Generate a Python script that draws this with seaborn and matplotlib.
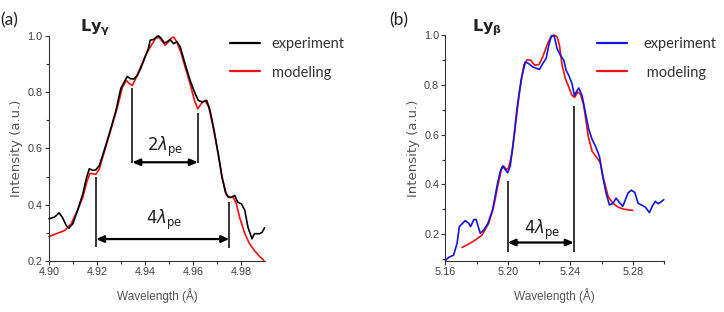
import numpy as np
import pandas as pd
import seaborn as sns
import matplotlib.pyplot as plt

# Ly-gamma (panel a)
gamma_wl_exp = [4.9000, 4.9023, 4.9042, 4.9055, 4.9072, 4.9083, 4.9099, 4.9119, 4.9141, 4.9157,
                4.9168, 4.9182, 4.9195, 4.9210, 4.9230, 4.9251, 4.9279, 4.9299, 4.9317, 4.9326,
                4.9340, 4.9354, 4.9368, 4.9382, 4.9395, 4.9414, 4.9422, 4.9437, 4.9451, 4.9457,
                4.9468, 4.9481, 4.9491, 4.9505, 4.9519, 4.9533, 4.9547, 4.9567, 4.9588, 4.9606,
                4.9622, 4.9639, 4.9657, 4.9671, 4.9688, 4.9705, 4.9721, 4.9735, 4.9747, 4.9760,
                4.9774, 4.9786, 4.9802, 4.9816, 4.9829, 4.9846, 4.9856, 4.9878, 4.9888, 4.9898]
gamma_int_exp = [0.350, 0.356, 0.371, 0.356, 0.326, 0.317, 0.332, 0.380, 0.439, 0.498,
                 0.528, 0.522, 0.524, 0.540, 0.593, 0.652, 0.735, 0.813, 0.842, 0.856,
                 0.848, 0.847, 0.860, 0.884, 0.913, 0.955, 0.985, 0.988, 0.999, 1.000,
                 0.991, 0.975, 0.979, 0.987, 0.973, 0.979, 0.961, 0.901, 0.842, 0.801,
                 0.771, 0.765, 0.771, 0.735, 0.664, 0.581, 0.498, 0.445, 0.427, 0.427,
                 0.433, 0.409, 0.403, 0.380, 0.320, 0.279, 0.297, 0.297, 0.302, 0.318]
gamma_wl_mod = [4.9000, 4.9030, 4.9065, 4.9092, 4.9119, 4.9141, 4.9157, 4.9171, 4.9184, 4.9195,
                4.9210, 4.9230, 4.9257, 4.9285, 4.9306, 4.9322, 4.9336, 4.9347, 4.9361, 4.9382,
                4.9402, 4.9422, 4.9444, 4.9457, 4.9471, 4.9484, 4.9498, 4.9510, 4.9519, 4.9533,
                4.9551, 4.9567, 4.9588, 4.9606, 4.9620, 4.9636, 4.9650, 4.9666, 4.9684, 4.9705,
                4.9721, 4.9740, 4.9754, 4.9767, 4.9781, 4.9794, 4.9816, 4.9836, 4.9856, 4.9878,
                4.9895]
gamma_int_mod = [0.287, 0.297, 0.308, 0.332, 0.380, 0.427, 0.480, 0.512, 0.510, 0.508,
                 0.528, 0.587, 0.664, 0.747, 0.818, 0.842, 0.830, 0.824, 0.848, 0.890,
                 0.931, 0.961, 0.991, 0.996, 0.982, 0.967, 0.979, 0.993, 0.996, 0.979,
                 0.937, 0.890, 0.830, 0.771, 0.741, 0.761, 0.771, 0.747, 0.676, 0.581,
                 0.498, 0.433, 0.425, 0.427, 0.403, 0.356, 0.297, 0.261, 0.237, 0.216,
                 0.202]

# Ly-beta (panel b)
beta_wl_exp = [5.1600, 5.1625, 5.1652, 5.1674, 5.1689, 5.1706, 5.1727, 5.1749, 5.1761, 5.1781,
               5.1796, 5.1813, 5.1823, 5.1845, 5.1872, 5.1902, 5.1930, 5.1951, 5.1966, 5.1983,
               5.1998, 5.2015, 5.2037, 5.2058, 5.2086, 5.2112, 5.2133, 5.2159, 5.2187, 5.2202,
               5.2223, 5.2245, 5.2262, 5.2279, 5.2296, 5.2315, 5.2336, 5.2358, 5.2373, 5.2390,
               5.2411, 5.2426, 5.2443, 5.2454, 5.2475, 5.2496, 5.2518, 5.2539, 5.2560, 5.2586,
               5.2607, 5.2629, 5.2650, 5.2672, 5.2693, 5.2721, 5.2736, 5.2753, 5.2770, 5.2791,
               5.2813, 5.2834, 5.2860, 5.2881, 5.2907, 5.2924, 5.2945, 5.2962, 5.2977, 5.2999]
beta_int_exp = [0.096, 0.109, 0.116, 0.163, 0.231, 0.242, 0.255, 0.244, 0.231, 0.258,
                0.260, 0.224, 0.204, 0.217, 0.244, 0.298, 0.393, 0.453, 0.474, 0.460,
                0.447, 0.474, 0.582, 0.703, 0.825, 0.892, 0.885, 0.872, 0.865, 0.862,
                0.885, 0.906, 0.960, 0.997, 0.997, 0.946, 0.919, 0.899, 0.858, 0.838,
                0.804, 0.757, 0.777, 0.787, 0.757, 0.690, 0.622, 0.582, 0.555, 0.514,
                0.433, 0.366, 0.318, 0.323, 0.345, 0.323, 0.312, 0.339, 0.366, 0.377,
                0.368, 0.325, 0.316, 0.309, 0.287, 0.312, 0.332, 0.323, 0.328, 0.339]
beta_wl_mod = [5.1706, 5.1749, 5.1791, 5.1834, 5.1877, 5.1909, 5.1937, 5.1958, 5.1973, 5.1988,
               5.2005, 5.2027, 5.2048, 5.2074, 5.2102, 5.2123, 5.2145, 5.2172, 5.2198, 5.2223,
               5.2251, 5.2272, 5.2294, 5.2315, 5.2330, 5.2347, 5.2368, 5.2390, 5.2411, 5.2428,
               5.2447, 5.2464, 5.2486, 5.2514, 5.2539, 5.2571, 5.2592, 5.2614, 5.2642, 5.2672,
               5.2706, 5.2742, 5.2774, 5.2800]
beta_int_mod = [0.147, 0.161, 0.177, 0.197, 0.244, 0.312, 0.400, 0.460, 0.474, 0.460,
                0.467, 0.528, 0.636, 0.771, 0.879, 0.901, 0.899, 0.879, 0.881, 0.912,
                0.960, 0.989, 1.000, 0.993, 0.960, 0.879, 0.825, 0.791, 0.757, 0.750,
                0.771, 0.764, 0.717, 0.595, 0.534, 0.507, 0.487, 0.420, 0.352, 0.325,
                0.309, 0.301, 0.298, 0.296]

# plasma-period markers (wavelength positions of the vertical bars)
gamma_2pe = [4.9347, 4.9620]
gamma_4pe = [4.9196, 4.9751]
beta_4pe = [5.1998, 5.2422]

sns.set_style('ticks')
plt.rcParams['axes.edgecolor'] = '#333333'
plt.rcParams['xtick.color'] = '#333333'
plt.rcParams['ytick.color'] = '#333333'

fig = plt.figure(figsize=(7.24, 3.12), dpi=100)
ax1 = fig.add_axes([0.0677, 0.1635, 0.2983, 0.7212])
ax2 = fig.add_axes([0.6153, 0.1644, 0.3018, 0.7234])

tickfont = dict(family='Liberation Sans', size=7.8, color='#404040')
xlabfont = dict(family='Liberation Sans', size=8.5, color='#555555')
ylabfont = dict(family='DejaVu Sans', size=9.5, color='#555555')
legfont = dict(family='Lato', size=10.5)


def draw(ax, wl_exp, int_exp, wl_mod, int_mod, exp_color):
    sns.lineplot(x=wl_mod, y=int_mod, ax=ax, color='#ee1111', lw=1.2, sort=False,
                 estimator=None, label='modeling', clip_on=False, zorder=2)
    sns.lineplot(x=wl_exp, y=int_exp, ax=ax, color=exp_color, lw=1.2, sort=False,
                 estimator=None, label='experiment', clip_on=False, zorder=3)
    sns.despine(ax=ax)
    ax.tick_params(which='major', direction='out', length=3, width=0.8, pad=1.5)
    ax.tick_params(which='minor', direction='out', length=2, width=0.8)
    ax.set_xlabel('Wavelength (Å)', labelpad=8, **xlabfont)
    ax.set_ylabel('Intensity (a.u.)', labelpad=3, **ylabfont)


def span_arrow(ax, x0, x1, y, text_x, text_y, text):
    ax.annotate('', xy=(x1, y), xytext=(x0, y),
                arrowprops=dict(arrowstyle='<|-|>,head_length=0.45,head_width=0.2',
                                color='black', lw=1.6, shrinkA=0, shrinkB=0))
    ax.text(text_x, text_y, text, ha='center', va='center', fontsize=12, color='#222222')


# panel a
draw(ax1, gamma_wl_exp, gamma_int_exp, gamma_wl_mod, gamma_int_mod, 'black')
ax1.set_xlim(4.90, 4.99)
ax1.set_ylim(0.2, 1.0)
ax1.set_xticks([4.90, 4.92, 4.94, 4.96, 4.98])
ax1.set_xticks([4.91, 4.93, 4.95, 4.97], minor=True)
ax1.set_xticklabels(['4.90', '4.92', '4.94', '4.96', '4.98'], **tickfont)
ax1.set_yticks([0.2, 0.4, 0.6, 0.8, 1.0])
ax1.set_yticks([0.3, 0.5, 0.7, 0.9], minor=True)
ax1.set_yticklabels(['0.2', '0.4', '0.6', '0.8', '1.0'], **tickfont)
ax1.vlines(gamma_2pe[0], 0.548, 0.815, color='black', lw=1.1)
ax1.vlines(gamma_2pe[1], 0.548, 0.726, color='black', lw=1.1)
span_arrow(ax1, gamma_2pe[0], gamma_2pe[1], 0.551, 4.9485, 0.605, r'$2\lambda_{\rm pe}$')
ax1.vlines(gamma_4pe[0], 0.249, 0.498, color='black', lw=1.1)
ax1.vlines(gamma_4pe[1], 0.246, 0.409, color='black', lw=1.1)
span_arrow(ax1, gamma_4pe[0], gamma_4pe[1], 0.278, 4.9478, 0.345, r'$4\lambda_{\rm pe}$')

# panel b
draw(ax2, beta_wl_exp, beta_int_exp, beta_wl_mod, beta_int_mod, '#1414dc')
ax2.set_xlim(5.16, 5.30)
ax2.set_ylim(0.094, 1.0)
ax2.set_xticks([5.16, 5.20, 5.24, 5.28])
ax2.set_xticks([5.18, 5.22, 5.26, 5.30], minor=True)
ax2.set_xticklabels(['5.16', '5.20', '5.24', '5.28'], **tickfont)
ax2.set_yticks([0.2, 0.4, 0.6, 0.8, 1.0])
ax2.set_yticks([0.1, 0.3, 0.5, 0.7, 0.9], minor=True)
ax2.set_yticklabels(['0.2', '0.4', '0.6', '0.8', '1.0'], **tickfont)
ax2.vlines(beta_4pe[0], 0.130, 0.413, color='black', lw=1.1)
ax2.vlines(beta_4pe[1], 0.130, 0.714, color='black', lw=1.1)
span_arrow(ax2, beta_4pe[0], beta_4pe[1], 0.167, 5.2219, 0.217, r'$4\lambda_{\rm pe}$')

# legends placed to the right of each curve
for ax, x0, pad in [(ax1, 230, 0.8), (ax2, 597, 1.1)]:
    h, l = ax.get_legend_handles_labels()
    l = ['experiment', ' modeling' if ax is ax2 else 'modeling']
    h = [h[1], h[0]]
    leg = ax.legend(h, l, loc='upper left', bbox_to_anchor=(x0 / 724, 1 - 37 / 312),
                    bbox_transform=fig.transFigure, frameon=False, borderpad=0,
                    borderaxespad=0, handlelength=2.05, handletextpad=pad,
                    labelspacing=1.0, prop=legfont)
    for t in leg.get_texts():
        t.set_color('#333333')
    for line in leg.get_lines():
        line.set_linewidth(1.6)

# panel tags and line names
fig.text(0.001, 0.935, '(a)', fontsize=12.5, family='Lato', color='#222222', va='center')
fig.text(389 / 724, 0.935, '(b)', fontsize=12.5, family='Lato', color='#222222', va='center')
fig.text(80 / 724, 0.91, r'$\mathbf{Ly_{\gamma}}$', fontsize=11.5, color='#222222', va='center')
fig.text(472 / 724, 0.91, r'$\mathbf{Ly_{\beta}}$', fontsize=11.5, color='#222222', va='center')

fig.savefig('out.png', dpi=100)
